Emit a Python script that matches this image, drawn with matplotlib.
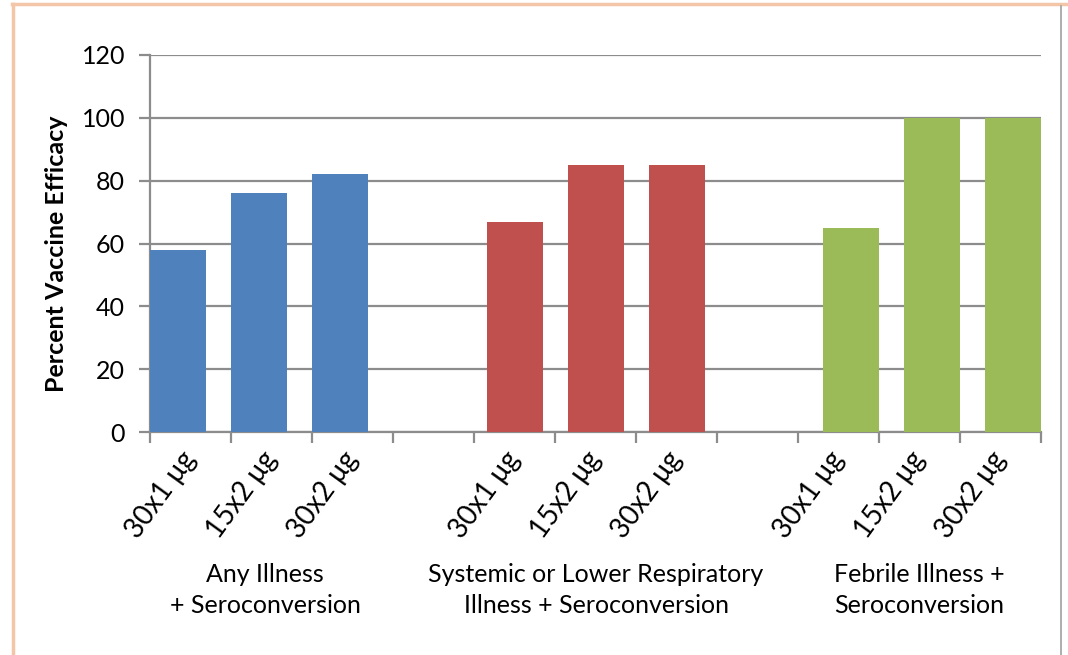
import matplotlib
matplotlib.use("Agg")
import matplotlib.pyplot as plt
from matplotlib.lines import Line2D
import numpy as np

plt.rcParams['font.family'] = ['Lato', 'DejaVu Sans']

# data
groups = ["Any Illness\n+ Seroconversion",
          "Systemic or Lower Respiratory\nIllness + Seroconversion",
          "Febrile Illness +\nSeroconversion"]
doses = ["30x1 \u03bcg", "15x2 \u03bcg", "30x2 \u03bcg"]
any_illness = [58, 76, 82]
systemic = [67, 85, 85]
febrile = [65, 100, 100]
colors = ["#4F81BD", "#C0504D", "#9BBB59"]

fig = plt.figure(figsize=(10.68, 6.55), dpi=100)
ax = fig.add_axes([150 / 1068, 1 - 432 / 655, 891 / 1068, 377 / 655])

bar_w = 0.69
offsets = [0.0, 0.16, 0.31]   # excel series offset inside a category
series = [any_illness, systemic, febrile]
tick_pos = []
tick_lab = []
for g, vals in enumerate(series):
    cats = np.arange(3) + g * 4
    ax.bar(cats + offsets[g], vals, width=bar_w, align='edge',
           color=colors[g], zorder=3)
    tick_pos += list(cats + 0.5)
    tick_lab += doses

ax.set_xlim(0, 11)
ax.set_ylim(0, 120)
ax.set_yticks(np.arange(0, 121, 20))
ax.yaxis.grid(True, color="#8C8C8C", linewidth=1.6, zorder=0)
ax.set_axisbelow(True)

# category boundaries as tick marks, labels at centres
ax.set_xticks(np.arange(0, 12), minor=True)
ax.set_xticks(tick_pos)
ax.set_xticklabels(tick_lab, rotation=54, ha='right', va='center',
                   rotation_mode='anchor', fontsize=20)
ax.tick_params(axis='x', which='major', length=0, pad=16)
ax.tick_params(axis='x', which='minor', length=8, width=1.6, color="#8C8C8C")
ax.tick_params(axis='y', length=8, width=1.6, color="#8C8C8C",
               labelsize=18, pad=10)

for s in ['top', 'right']:
    ax.spines[s].set_visible(False)
for s in ['left', 'bottom']:
    ax.spines[s].set_color("#8C8C8C")
    ax.spines[s].set_linewidth(1.6)

fig.text(57 / 1068, 1 - 254 / 655, "Percent Vaccine Efficacy", rotation=90,
         ha='center', va='center', fontsize=18, fontweight='bold')

group_x = [265, 596, 919]
for gx, lab in zip(group_x, groups):
    fig.text(gx / 1068, 1 - 590 / 655, lab, ha='center', va='center',
             fontsize=18, linespacing=1.45)

# outer frame of the original slide
fig.add_artist(Line2D([12 / 1068, 1], [1 - 4 / 655, 1 - 4 / 655],
                      color="#F2C6A6", linewidth=2.5))
fig.add_artist(Line2D([13 / 1068, 13 / 1068], [0, 1 - 4 / 655],
                      color="#F2C6A6", linewidth=2.5))
fig.add_artist(Line2D([1061 / 1068, 1061 / 1068], [0, 1 - 6 / 655],
                      color="#A0A0A0", linewidth=1.2))

fig.savefig("out.png", dpi=100)
